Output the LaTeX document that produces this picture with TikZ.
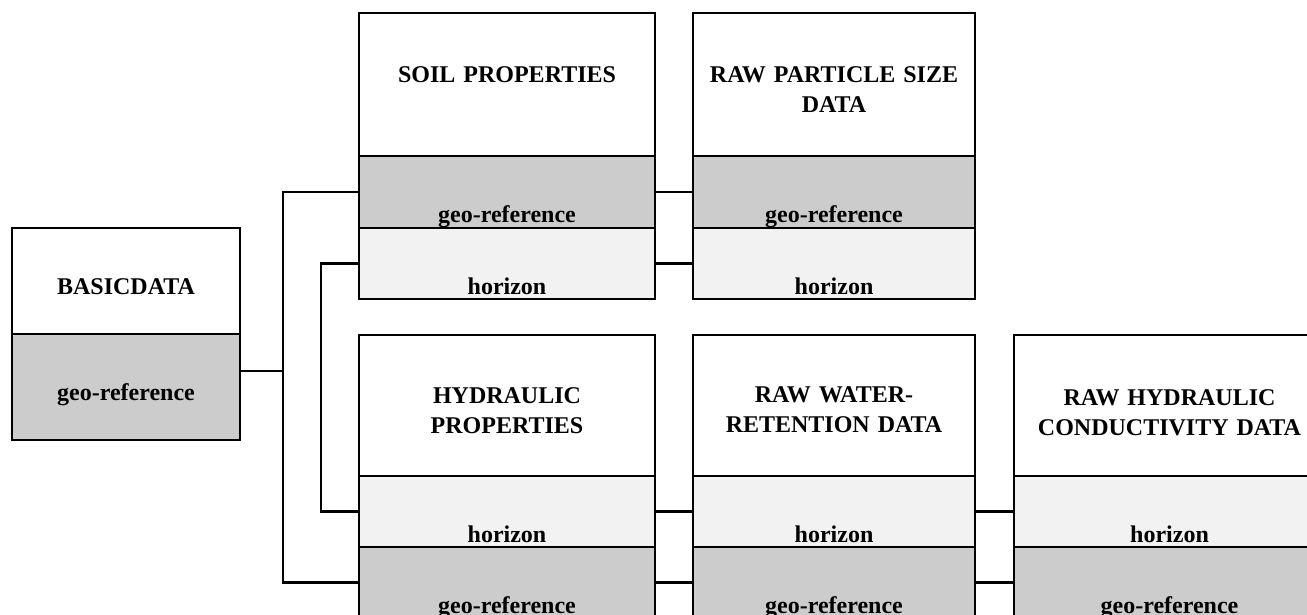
\documentclass[tikz,border=0pt]{standalone}
\usepackage{fontspec}
\setmainfont{Liberation Serif}
\usetikzlibrary{positioning}
\begin{document}
\begin{tikzpicture}[x=0.5pt,y=-0.5pt,line width=1.2pt]
    \tikzstyle{cell}=[draw=black,inner sep=0pt,outer sep=0pt,anchor=north west,align=center,font=\bfseries\fontsize{12}{15}\selectfont]
    \tikzstyle{head}=[cell,fill=white]
    \tikzstyle{geo}=[cell,fill=black!20]
    \tikzstyle{hor}=[cell,fill=black!5]
    \useasboundingbox (0,0) rectangle (1307,615);

    % table heads: name/left/top/width/height/baseline/title
    \foreach \name/\x/\y/\w/\h/\b/\title in {basic/12/228/228/106/66/BASICDATA,
            soil/359/13/296/143/70/SOIL PROPERTIES,
            rawps/693/13/282/143/70/{RAW PARTICLE SIZE\\DATA},
            hydr/359/335/296/141/68/{HYDRAULIC\\PROPERTIES},
            rawwr/693/335/282/141/67/{RAW WATER-\\RETENTION DATA},
            rawhc/1014/335/311/141/70/{RAW HYDRAULIC\\CONDUCTIVITY DATA}}
        \node[head,text width=\w*0.5pt,text height=\b*0.5pt,text depth=(\h-\b)*0.5pt] (\name) at (\x,\y) {\title};

    % fields under each head
    \foreach \t/\f/\above/\w/\h/\txt in {basic/geo/basic/228/106/geo-reference,
            soil/geo/soil/296/72/geo-reference, soil/hor/soil-geo/296/71/horizon,
            rawps/geo/rawps/282/72/geo-reference, rawps/hor/rawps-geo/282/71/horizon,
            hydr/hor/hydr/296/71/horizon, hydr/geo/hydr-hor/296/71/geo-reference,
            rawwr/hor/rawwr/282/71/horizon, rawwr/geo/rawwr-hor/282/71/geo-reference,
            rawhc/hor/rawhc/311/71/horizon, rawhc/geo/rawhc-hor/311/71/geo-reference}
        \node[\f,text width=\w*0.5pt,text height=33pt,text depth=(\h-66)*0.5pt] (\t-\f) at (\above.south west) {\txt};

    % links
    \draw (soil-geo.west) -- ++(-76,0) coordinate (bus) |- (hydr-geo.west);
    \draw ([yshift=8pt]basic-geo.east) -- ([yshift=8pt]basic-geo.east -| bus);
    \draw (soil-hor.west) -- ++(-38,0) |- (hydr-hor.west);
    \foreach \from/\to in {soil-geo/rawps-geo, soil-hor/rawps-hor, hydr-hor/rawwr-hor,
            hydr-geo/rawwr-geo, rawwr-hor/rawhc-hor, rawwr-geo/rawhc-geo}
        \draw (\from.east) -- (\to.west);
\end{tikzpicture}
\end{document}
